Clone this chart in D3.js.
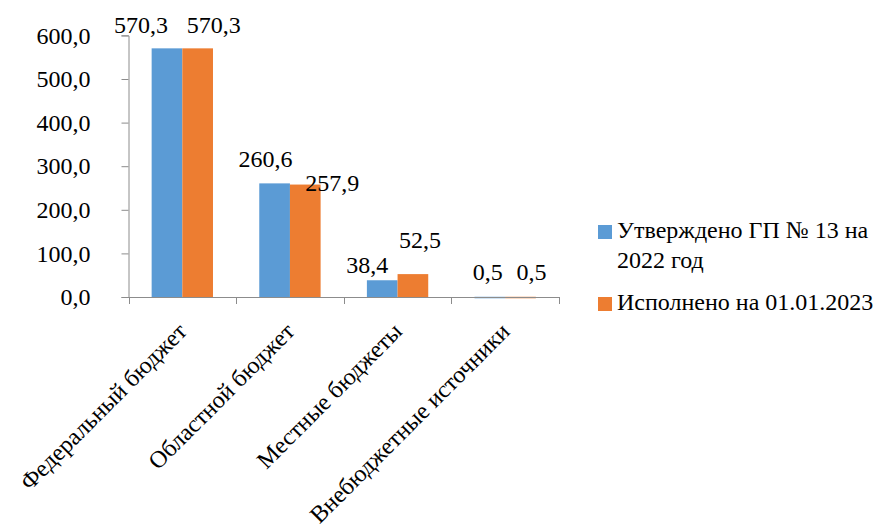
<!DOCTYPE html>
<html>
<head>
<meta charset="utf-8">
<script src="https://cdn.jsdelivr.net/npm/d3@7"></script>
</head>
<body style="margin:0">
<div id="chart"></div>
<script>
// categories and series
const categories = ['Федеральный бюджет', 'Областной бюджет', 'Местные бюджеты', 'Внебюджетные источники'];
const approved = [570.3, 260.6, 38.4, 0.5];
const executed = [570.3, 257.9, 52.5, 0.5];
const seriesNames = ['Утверждено ГП № 13 на 2022 год', 'Исполнено на 01.01.2023'];
const yTicks = [0, 100, 200, 300, 400, 500, 600];

// label nudges (Excel moves overlapping data labels apart)
const nudgeApproved = [[-26, -15], [-9, -16], [-15, -7], [-2, -17]];
const nudgeExecuted = [[16, -15], [27, 6], [7, -26], [11, -17]];

const fams = ['Liberation Serif', 'Times New Roman'];
const fontStack = fams.map(f => '"' + f + '"').join(', ') + ', serif';

const width = 892, height = 530;
const fontSize = 24;
const colors = ['#5b9bd5', '#ed7d31'];
const axisColor = '#8c8c8c';

const svg = d3.select('#chart').append('svg')
    .attr('width', width).attr('height', height)
    .attr('font-family', fontStack).attr('font-size', fontSize);

const x0 = d3.scaleBand().domain(categories).range([128.5, 559]).paddingInner(0.43).paddingOuter(0.215);
const xEdge = d3.scaleBand().domain(categories).range([128.5, 559]);
const x1 = d3.scaleBand().domain([0, 1]).range([0, x0.bandwidth()]);
const y = d3.scaleLinear().domain([0, 600]).range([297, 35.4]);

const series = [approved, executed];
const nudges = [nudgeApproved, nudgeExecuted];
const fmt = d => d3.format('.1f')(d).replace('.', ',');

// y axis
const yAxis = svg.append('g').attr('transform', 'translate(128.5,0)')
    .call(d3.axisLeft(y).tickValues(yTicks).tickSize(7).tickPadding(31).tickFormat(fmt));
yAxis.attr('font-family', fontStack).attr('font-size', fontSize);
yAxis.select('.domain').attr('stroke', axisColor);
yAxis.selectAll('.tick line').attr('stroke', axisColor);
yAxis.selectAll('.tick text').attr('fill', '#000');

// bars
series.forEach((vals, s) => {
    svg.append('g').selectAll('rect').data(vals).enter().append('rect')
        .attr('x', (d, i) => x0(categories[i]) + x1(s))
        .attr('width', x1.bandwidth())
        .attr('y', d => y(d))
        .attr('height', d => Math.max(y(0) - y(d), 1.5))
        .attr('fill', colors[s]);
});

// x axis
const xg = svg.append('g');
xg.append('line').attr('x1', 128.5).attr('x2', 559).attr('y1', 297.5).attr('y2', 297.5).attr('stroke', axisColor);
xg.selectAll('line.tk').data(categories.concat(['end'])).enter().append('line')
    .attr('class', 'tk')
    .attr('x1', (d, i) => Math.round(128.5 + i * xEdge.step()) + 0.5)
    .attr('x2', (d, i) => Math.round(128.5 + i * xEdge.step()) + 0.5)
    .attr('y1', 297).attr('y2', 304).attr('stroke', axisColor);

// category labels, rotated
xg.selectAll('text').data(categories).enter().append('text')
    .attr('transform', d => 'translate(' + (x0(d) + x0.bandwidth() / 2) + ',327) rotate(-45)')
    .attr('text-anchor', 'end')
    .attr('dy', '0.35em')
    .text(d => d);

// data labels
series.forEach((vals, s) => {
    svg.append('g').selectAll('text').data(vals).enter().append('text')
        .attr('x', (d, i) => x0(categories[i]) + x1(s) + x1.bandwidth() / 2 + nudges[s][i][0])
        .attr('y', (d, i) => y(d) + nudges[s][i][1])
        .attr('text-anchor', 'middle')
        .text(fmt);
});

// legend
const legend = svg.append('g').attr('transform', 'translate(598,0)');
const legendRows = [[seriesNames[0].replace(' 2022 год', ''), '2022 год'], [seriesNames[1]]];
const legendY = [238, 310];
legendRows.forEach((lines, s) => {
    legend.append('rect').attr('x', 0).attr('y', legendY[s] - 13).attr('width', 14).attr('height', 14)
        .attr('fill', colors[s]);
    const t = legend.append('text').attr('x', 19).attr('y', legendY[s]);
    lines.forEach((ln, k) => {
        t.append('tspan').attr('x', 19).attr('dy', k === 0 ? 0 : 30).text(ln);
    });
});
</script>
</body>
</html>
